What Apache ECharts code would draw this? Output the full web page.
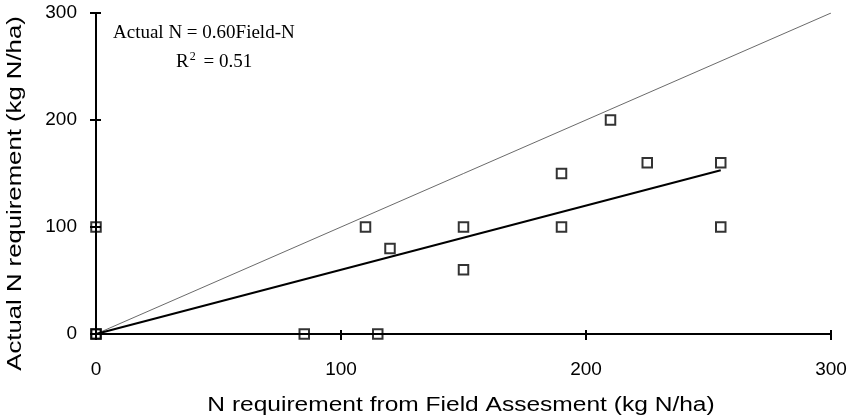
<!DOCTYPE html>
<html>
<head>
<meta charset="utf-8">
<script src="https://cdn.jsdelivr.net/npm/echarts@6/dist/echarts.min.js"></script>
<style>html,body{margin:0;padding:0;background:#fff;}#c{width:850px;height:419px;}</style>
</head>
<body>
<div id="c"></div>
<script>
// Observed points (Field-N assessment, Actual N)
const fieldN  = [0, 0, 0, 85, 115, 110, 120, 150, 150, 190, 190, 210, 225, 255, 255];
const actualN = [0, 0, 100, 0, 0, 100, 80, 100, 60, 150, 100, 200, 160, 160, 100];
// Regression line endpoints (Actual N = 0.60 Field-N)
const trendX = [0, 255];
const trendY = [0, 153];
// 1:1 line endpoints
const oneToOneX = [0, 300];
const oneToOneY = [0, 300];
// Axis ticks
const xTicks = [0, 100, 200, 300];
const yTicks = [0, 100, 200, 300];
const xTitle = 'N requirement from Field Assesment (kg N/ha)';
const yTitle = 'Actual N requirement (kg N/ha)';
const eqText = 'Actual N = 0.60Field-N';
const r2Text = '0.51';

const pts = fieldN.map((x, i) => [x, actualN[i]]);
const trend = trendX.map((x, i) => [x, trendY[i]]);
const oneToOne = oneToOneX.map((x, i) => [x, oneToOneY[i]]);

const chart = echarts.init(document.getElementById('c'));
const axisFont = 'Liberation Sans, Arial, sans-serif';
const serif = '"Liberation Serif", "Times New Roman", serif';
const baseX = {
  type: 'value', min: xTicks[0], max: xTicks[xTicks.length - 1], interval: xTicks[1] - xTicks[0],
  position: 'bottom', splitLine: { show: false }
};
const baseY = {
  type: 'value', min: yTicks[0], max: yTicks[yTicks.length - 1], interval: yTicks[1] - yTicks[0],
  position: 'left', splitLine: { show: false }
};
chart.setOption({
  animation: false,
  backgroundColor: '#fff',
  grid: { left: 96, right: 19, top: 13, bottom: 85 },
  xAxis: [
    Object.assign({}, baseX, {
      axisLine: { lineStyle: { color: '#000', width: 2 } },
      axisTick: { inside: false, length: 6, lineStyle: { color: '#000', width: 2 } },
      axisLabel: { fontFamily: axisFont, fontSize: 19, color: '#000', margin: 26 }
    }),
    Object.assign({}, baseX, {
      axisLine: { show: false },
      axisTick: { inside: true, length: 4, lineStyle: { color: '#000', width: 2 } },
      axisLabel: { show: false }
    })
  ],
  yAxis: [
    Object.assign({}, baseY, {
      axisLine: { lineStyle: { color: '#000', width: 2 } },
      axisTick: { inside: false, length: 6, lineStyle: { color: '#000', width: 2 } },
      axisLabel: { fontFamily: axisFont, fontSize: 19, color: '#000', margin: 19 }
    }),
    Object.assign({}, baseY, {
      axisLine: { show: false },
      axisTick: { inside: true, length: 5, lineStyle: { color: '#000', width: 2 } },
      axisLabel: { show: false }
    })
  ],
  series: [
    {
      type: 'line', data: oneToOne, symbol: 'none', silent: true,
      lineStyle: { color: '#444', width: 0.8 }, z: 2
    },
    {
      type: 'line', data: trend, symbol: 'none', silent: true,
      lineStyle: { color: '#000', width: 2 }, z: 3
    },
    {
      type: 'scatter', data: pts, symbol: 'rect', symbolSize: 9.5,
      itemStyle: { color: 'rgba(0,0,0,0)', borderColor: '#000', borderWidth: 2 }, z: 5
    }
  ],
  graphic: [
    {
      type: 'text', x: 461, y: 405, scaleX: 1.227,
      style: { text: xTitle, font: '20px "Liberation Sans", Arial, sans-serif', fill: '#000', align: 'center', verticalAlign: 'middle' }
    },
    {
      type: 'text', x: 15, y: 193.5, rotation: Math.PI / 2, scaleX: 1.286,
      style: { text: yTitle, font: '20px "Liberation Sans", Arial, sans-serif', fill: '#000', align: 'center', verticalAlign: 'middle' }
    },
    {
      type: 'text', x: 113, y: 33,
      style: { text: eqText, font: '19px ' + serif, fill: '#000', align: 'left', verticalAlign: 'middle' }
    },
    {
      type: 'text', x: 176, y: 62,
      style: {
        text: '{r|R}{sup|2}{r| = ' + r2Text + '}',
        fill: '#000', align: 'left', verticalAlign: 'middle',
        rich: {
          r: { fontSize: 19, fontFamily: serif, color: '#000' },
          sup: { fontSize: 12, fontFamily: serif, color: '#000', verticalAlign: 'top', padding: [0, 3, 10, 1] }
        }
      }
    }
  ]
});
</script>
</body>
</html>
